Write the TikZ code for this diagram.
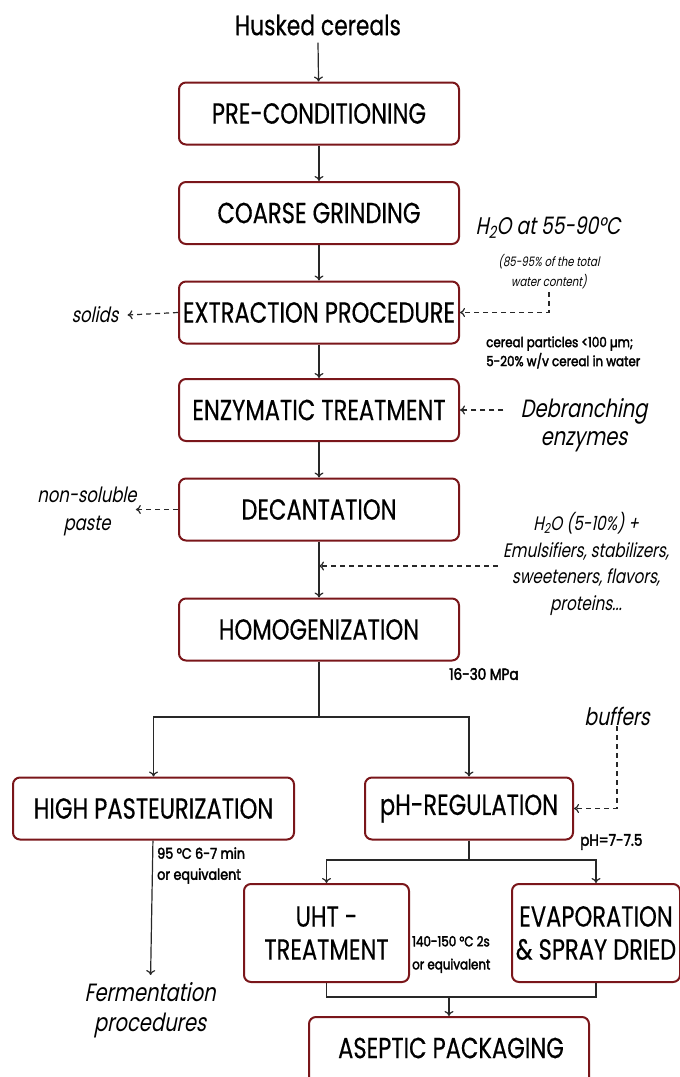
\documentclass[tikz,border=0pt]{standalone}
\usepackage{fontspec}
\setmainfont{Poppins}
\newfontfamily\mf[FakeStretch=0.78,FakeBold=0.4]{Poppins}
\newfontfamily\itf[FakeStretch=0.78,FakeSlant=0.2]{Poppins}
\newfontfamily\bdf[FakeStretch=0.85,FakeBold=2.5]{Poppins}
\usetikzlibrary{arrows.meta}
\definecolor{boxred}{RGB}{122,22,26}
\definecolor{ln}{RGB}{40,40,40}
\begin{document}
\begin{tikzpicture}[x=1pt,y=-1pt,
 box/.style={draw=boxred, line width=2pt, rounded corners=7pt, fill=white,
   minimum height=62pt, minimum width=280pt, inner sep=0pt, align=center,
   font=\mf\fontsize{29}{33}\selectfont},
 flow/.style={draw=ln, line width=1.2pt, -{To[length=5pt,width=9pt]}},
 plain/.style={draw=ln, line width=1.2pt},
 side/.style={draw=ln, line width=1.2pt, dash pattern=on 5pt off 4pt, -{To[length=5pt,width=9pt]}},
 note/.style={font=\itf\fontsize{21}{28}\selectfont, align=center, inner sep=1pt},
 small/.style={font=\bdf\fontsize{14}{19}\selectfont, align=left, inner sep=0pt, anchor=west},
 ]
\useasboundingbox (0,0) rectangle (680,1077);
\clip (0,0) rectangle (680,1077);
% main column
\node[font=\mf\fontsize{28}{30}\selectfont, inner sep=1pt] (husk) at (318,25) {Husked cereals};
\node[box] (pre) at (319,113.5) {PRE-CONDITIONING};
\node[box] (coarse) at (319,213) {COARSE GRINDING};
\node[box] (extr) at (319,312.5) {EXTRACTION PROCEDURE};
\node[box] (enz) at (319,410) {ENZYMATIC TREATMENT};
\node[box] (dec) at (319,509.5) {DECANTATION};
\node[box] (hom) at (319,629.5) {HOMOGENIZATION};
\node[box, minimum width=281pt] (hp) at (153.5,808.5) {HIGH PASTEURIZATION};
\node[box, minimum width=208pt] (ph) at (469,808.5) {pH-REGULATION};
\node[box, minimum width=165pt, minimum height=98pt] (uht) at (326.5,933) {UHT -\\TREATMENT};
\node[box, minimum width=168pt, minimum height=98pt] (evap) at (596,933) {EVAPORATION\\\&~SPRAY DRIED};
\node[box, minimum height=73pt] (asep) at (449,1053.5) {};
\node[font=\mf\fontsize{29}{33}\selectfont, inner sep=0pt] (aseptxt) at (451,1048) {ASEPTIC PACKAGING};
% side notes
\node[note, font=\itf\fontsize{24}{26}\selectfont, inner sep=0pt] (water) at (548,228) {H\textsubscript{2}O at 55-90°C};
\node[note, font=\itf\fontsize{13}{20}\selectfont, inner sep=0pt] (watersub) at (549,272) {(85-95\% of the total\\water content)};
\node[small] (partic) at (486,352.5) {cereal particles <100 µm;\\5-20\% w/v cereal in water};
\node[note] (solids) at (95,315) {solids};
\node[note, font=\itf\fontsize{25}{28}\selectfont] (debr) at (584,425) {Debranching\\enzymes};
\node[note, font=\itf\fontsize{21}{28}\selectfont] (paste) at (87,511) {non-soluble\\paste};
\node[note, font=\itf\fontsize{19.5}{26.5}\selectfont] (addit) at (586,564) {H\textsubscript{2}O (5-10\%) +\\Emulsifiers, stabilizers,\\sweeteners, flavors,\\proteins...};
\node[small, font=\bdf\fontsize{16}{19}\selectfont] (mpa) at (449,674) {16-30 MPa};
\node[note, font=\itf\fontsize{24}{28}\selectfont] (buf) at (617,716) {buffers};
\node[small, font=\bdf\fontsize{16}{19}\selectfont] (phval) at (580,842) {pH=7-7.5};
\node[small, font=\bdf\fontsize{15}{21}\selectfont] (past) at (157,865.5) {95 °C 6-7 min\\or equivalent};
\node[small, font=\bdf\fontsize{14}{23}\selectfont] (uhtc) at (412,954.5) {140-150 °C 2s\\or equivalent};
\node[note, font=\itf\fontsize{25}{30}\selectfont] (ferm) at (150,1010) {Fermentation\\procedures};
% junction points
\coordinate (split1) at (319,717);
\coordinate (split2) at (469,860);
\coordinate (jadd) at (319,566);
\coordinate (join) at (449,997);
% main connectors
\draw[flow] ([yshift=-6pt]husk.south) -- (pre);
\draw[flow] (pre) -- (coarse);
\draw[flow] (coarse) -- (extr);
\draw[flow] (extr) -- (enz);
\draw[flow] (enz) -- (dec);
\draw[flow] (dec) -- (hom);
\draw[plain] (hom) -- (split1);
\draw[flow] (split1) -| (hp);
\draw[flow] (split1) -| (ph);
\draw[flow, shorten >=6pt] (hp) -- (ferm);
\draw[plain] (ph) -- (split2);
\draw[flow] (split2) -| (uht);
\draw[flow] (split2) -| (evap);
\draw[plain] (uht.south) |- (join) -| (evap.south);
\draw[flow] (join) -- (asep.north);
% side connectors
\draw[side] ([yshift=-3pt]watersub.south) |- (extr.east);
\draw[side] (extr.west) -- ([xshift=8pt]solids.east);
\draw[side] ([xshift=-16pt]debr.west |- enz.east) -- (enz.east);
\draw[side] (dec.west) -- ([xshift=-2pt]paste.east |- dec.west);
\draw[side] ([xshift=-4pt]addit.west |- jadd) -- (jadd);
\draw[side] (buf.south) |- (ph.east);
\end{tikzpicture}
\end{document}
